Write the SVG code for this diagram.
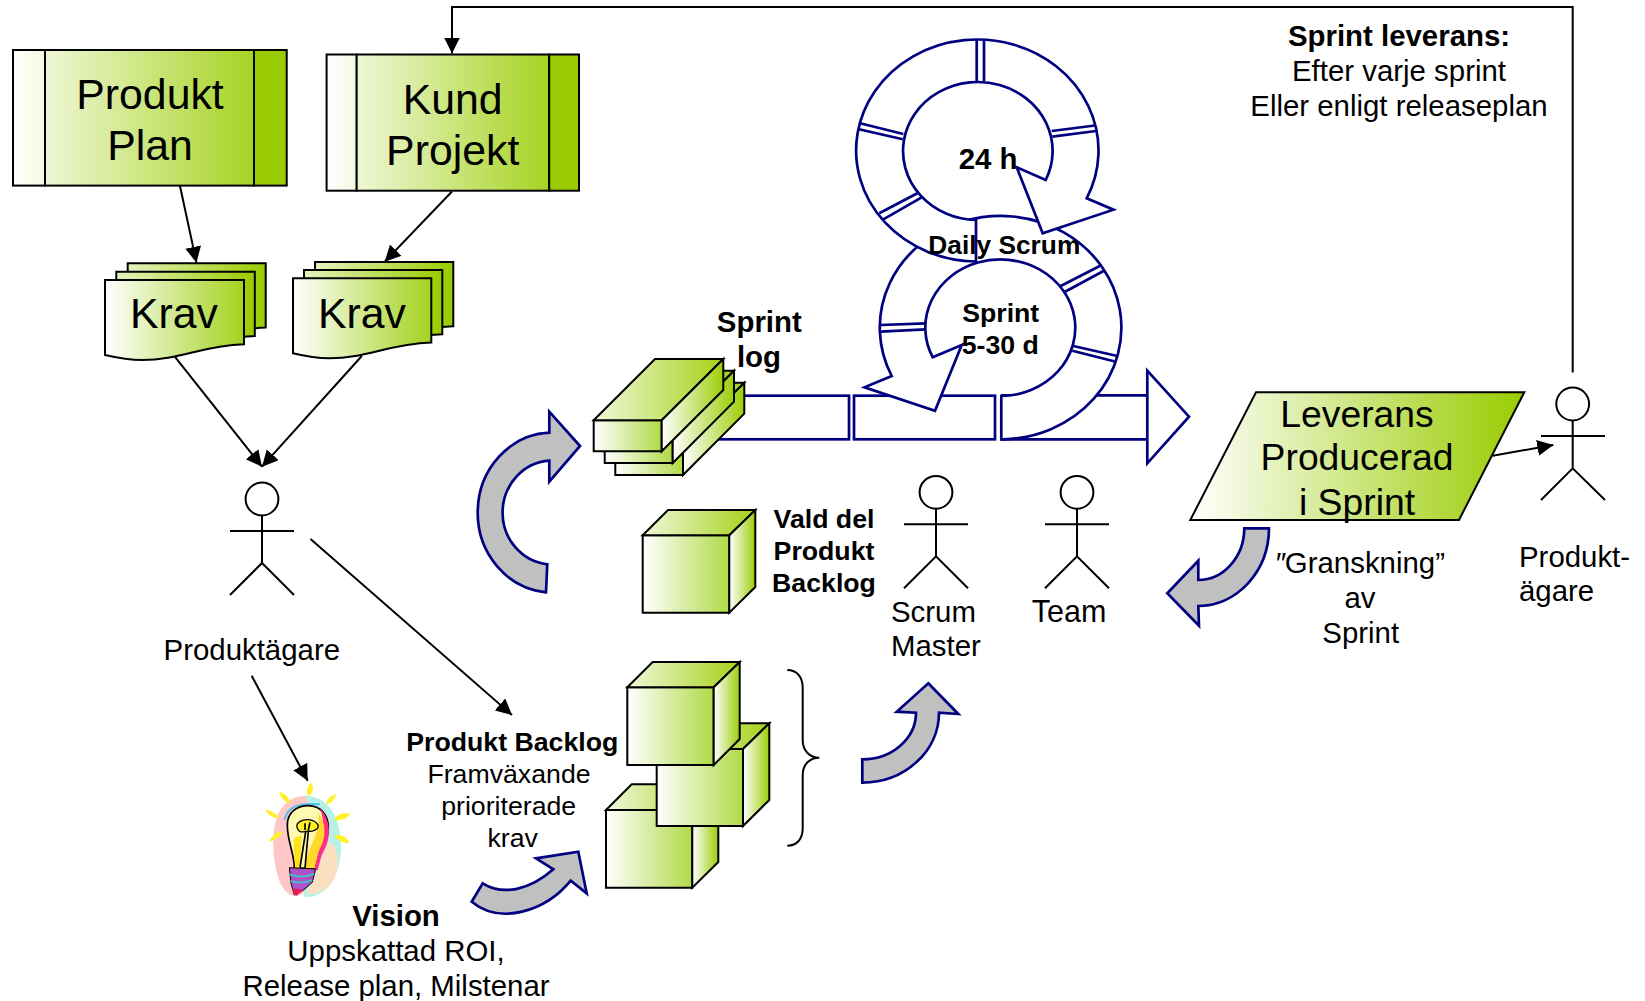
<svg xmlns="http://www.w3.org/2000/svg" width="1645" height="1001" viewBox="0 0 1645 1001">
<style>
text{font-family:"Liberation Sans",Arial,sans-serif;fill:#000;text-anchor:middle}
.b{font-weight:bold}.s{text-anchor:start}
.f42{font-size:42.8px}.f37{font-size:37.3px}.f29{font-size:29.4px}.f26{font-size:26.7px}
.k{stroke:#000;stroke-width:2;stroke-linejoin:miter}
.n{stroke:#000080;stroke-width:2.7;fill:#fff;stroke-linejoin:miter}
.d{stroke:#000080;stroke-width:2.7;fill:none}
.g{stroke:#000080;stroke-width:2.7;fill:#C0C0C0;stroke-linejoin:miter}
.l{fill:none;stroke:#000;stroke-width:2}
.c{fill:none;stroke:#000;stroke-width:2}
.a{marker-end:url(#ah)}
.front{fill:url(#gf)}.top{fill:url(#gt)}.side{fill:url(#gs)}.doc{fill:url(#gd)}.doc2{fill:url(#gd2)}
.ray{fill:#FFF02A}
</style>
<defs>
<linearGradient id="gf"><stop offset="0" stop-color="#fff"/><stop offset="1" stop-color="#B0DA46"/></linearGradient>
<linearGradient id="gt"><stop offset="0" stop-color="#F0F8DA"/><stop offset="1" stop-color="#A4D218"/></linearGradient>
<linearGradient id="gs"><stop offset="0" stop-color="#fff"/><stop offset="1" stop-color="#9BCE08"/></linearGradient>
<linearGradient id="gd"><stop offset="0" stop-color="#fff"/><stop offset="1" stop-color="#A4D21E"/></linearGradient>
<linearGradient id="gd2"><stop offset="0" stop-color="#E4F2BE"/><stop offset="1" stop-color="#99CC00"/></linearGradient>
<linearGradient id="gl"><stop offset="0" stop-color="#fff"/><stop offset="1" stop-color="#F3F9E0"/></linearGradient>
<linearGradient id="gc"><stop offset="0" stop-color="#EFF7D6"/><stop offset="1" stop-color="#A6D322"/></linearGradient>
<linearGradient id="gp"><stop offset="0" stop-color="#fff"/><stop offset="1" stop-color="#99CC00"/></linearGradient>
<marker id="ah" markerUnits="userSpaceOnUse" markerWidth="17" markerHeight="17" refX="16" refY="8" orient="auto"><path d="M0 0L16 8L0 16Z" fill="#000"/></marker>
</defs>

<g id="connectors">
<path class="c a" d="M1572.7 372.5V7H452V53.5"/>
<line class="c a" x1="180" y1="186" x2="196.5" y2="262.7"/>
<line class="c a" x1="452" y1="191.5" x2="384.7" y2="261.7"/>
<line class="c a" x1="174.8" y1="356.7" x2="262" y2="466.7"/>
<line class="c a" x1="361.8" y1="356" x2="262" y2="466.7"/>
<line class="c a" x1="251.7" y1="675.7" x2="307.7" y2="780.7"/>
<line class="c a" x1="310.5" y1="539" x2="512" y2="715"/>
<line class="c a" x1="1492.7" y1="455.7" x2="1553.3" y2="445"/>
</g>

<g id="produkt-plan">
<rect x="13" y="50" width="32" height="135.6" fill="url(#gl)" class="k"/>
<rect x="45" y="50" width="209" height="135.6" fill="url(#gc)" class="k"/>
<rect x="254" y="50" width="32.7" height="135.6" fill="#9ACC05" class="k"/>
<text class="f42" x="150" y="109">Produkt</text><text class="f42" x="150" y="160">Plan</text>
</g>
<g id="kund-projekt">
<rect x="326.6" y="54.5" width="30.1" height="136.2" fill="url(#gl)" class="k"/>
<rect x="356.7" y="54.5" width="192.5" height="136.2" fill="url(#gc)" class="k"/>
<rect x="549.2" y="54.5" width="29.8" height="136.2" fill="#9ACC05" class="k"/>
<text class="f42" x="452.7" y="114">Kund</text><text class="f42" x="452.7" y="164.5">Projekt</text>
</g>
<g id="krav-1">
<path class="k doc2" d="M127.7 263.3h138v64.3c-44 1.7-64 15.7-102 15.7c-12 0-24-2-36-5z"/>
<path class="k doc2" d="M116.3 271.7h138.5v64.3c-44 1.7-64 15.7-102 15.7c-12 0-24-2-36.5-5z"/>
<path class="k doc" d="M105 280h139v64.3c-44 1.7-64 15.7-102 15.7c-12 0-24-2-37-5z"/>
<text class="f42" x="174" y="328">Krav</text>
</g>
<g id="krav-2">
<path class="k doc2" d="M315 262h138.3v64.3c-44 1.7-64 15.7-102 15.7c-12 0-24-2-36.3-5z"/>
<path class="k doc2" d="M304 270h138.3v64.3c-44 1.7-64 15.7-102 15.7c-12 0-24-2-36.3-5z"/>
<path class="k doc" d="M293 278.3h138.3v64.3c-44 1.7-64 15.7-102 15.7c-12 0-24-2-36.3-5z"/>
<text class="f42" x="362" y="327.7">Krav</text>
</g>

<g id="actor-produktagare">
<circle class="l" cx="262" cy="499" r="16.4" fill="#fff"/>
<path class="l" d="M262 515.4V563M230 531H294M230 595L262 563L294 595"/>
<text class="f29" x="251.8" y="659.5">Produktägare</text>
</g>
<g id="vision">
<g transform="translate(255 775) scale(.3333)">
<path d="M55 200C55 120 85 65 150 62C200 60 210 120 205 200C200 290 175 362 115 362C75 355 55 280 55 200Z" fill="#FFC6C6"/>
<path d="M150 62C215 62 258 120 258 215C258 310 210 368 150 366C130 362 200 150 150 62Z" fill="#B6F0E6"/>
<path d="M220 200C248 205 252 250 245 290C235 335 195 358 155 358C165 320 185 300 190 270Z" fill="#FBE0C2"/>
<path class="ray" d="M168 22C178 40 175 55 160 63C150 50 158 35 168 22ZM72 50C90 55 105 68 105 85C88 82 78 68 72 50ZM30 102C45 108 65 115 72 128C55 132 38 120 30 102ZM42 200C48 185 65 170 83 168C82 185 60 197 42 200ZM244 58C240 72 230 85 214 88C215 72 228 62 244 58ZM286 116C278 130 258 138 238 135C242 118 265 112 286 116ZM283 204C265 204 245 196 238 182C258 176 275 185 283 204Z"/>
<path d="M88 135C98 95 130 82 195 88" fill="none" stroke="#4FC3F0" stroke-width="6"/>
<path d="M118 278C118 235 97 200 97 150C97 112 125 92 160 92C198 92 220 122 220 158C220 205 190 235 182 282Z" fill="#FFF8B0" stroke="#000" stroke-width="5"/>
<path d="M195 100C228 135 232 190 200 240L188 285L178 285C185 225 222 175 195 100Z" fill="#FF2E86"/>
<path d="M190 115C215 145 215 190 190 230L178 280L150 280C155 215 200 175 190 115Z" fill="#FFD92A"/>
<path d="M120 280C120 240 112 215 118 190L140 180L135 280Z" fill="#FFE21A"/>
<path d="M150 170C125 175 122 150 130 143C145 130 175 130 188 148C195 160 175 172 160 168Z" fill="#FFF02A" stroke="#000" stroke-width="4"/>
<path d="M152 170L135 278M160 168L150 280M150 145L150 165M165 142L160 165" fill="none" stroke="#000" stroke-width="5"/>
<path d="M103 278L182 282L172 322L146 345L118 360L108 325Z" fill="#B050C8" stroke="#000" stroke-width="3"/>
<path d="M102 298Q140 312 178 296M106 318Q140 328 172 316" fill="none" stroke="#35D0C0" stroke-width="5"/>
<path d="M112 340L146 344L125 362L117 360Z" fill="#E0205A"/>
</g>
<text class="b f29" x="396" y="926">Vision</text>
<text class="f29" x="396" y="961">Uppskattad ROI,</text>
<text class="f29" x="396" y="996">Release plan, Milstenar</text>
</g>
<g id="produkt-backlog">
<text class="b f26" x="512.3" y="751">Produkt Backlog</text>
<text class="f26" x="509" y="783.3">Framväxande</text>
<text class="f26" x="508.7" y="815">prioriterade</text>
<text class="f26" x="512.7" y="847.3">krav</text>
</g>
<g id="arrow-vision-backlog"><path class="g" d="M471.7 901.7L482.7 883.3C503 896 530 890 553.3 869.3L536 858.3L578.3 851.7L586.7 893.3L570.7 880.7C545 912 500 925 471.7 901.7Z"/></g>
<g id="arrow-backlog-sprintlog"><path class="g" d="M580 446L549.3 411.7V432.7A75 80 0 0 0 546 592.3L547.3 564.3A50 52 0 0 1 549.3 460.7V481.7Z"/></g>
<g id="arrow-granskning"><path class="g" d="M1167.3 593.3L1198.3 560.7V580A46 52 0 0 0 1244.3 528.3H1269A71 78 0 0 1 1198.3 606L1199 625.7Z"/></g>
<g id="arrow-scrummaster"><path class="g" d="M928.3 683.3L958.3 714L939 712.7A77 70 0 0 1 862.3 782.7V759.3A53.7 46.6 0 0 0 916 712.7L896.7 711.7Z"/></g>

<g id="sprint-bar">
<rect class="n" x="720" y="395.7" width="129" height="43.6"/>
<rect class="n" x="854" y="395.7" width="141" height="43.6"/>
<path class="n" d="M1001 395.3H1147.3V370.7M1147.3 370.7L1189 416.7L1147.3 463.3ZM1147.3 439.3H1001Z"/>
</g>
<g id="sprint-log">
<path class="k front" d="M615.3 444H683V475H615.3Z"/><path class="k top" d="M615.3 444L676.6 382.7H744.3L683 444Z"/><path class="k side" d="M683 444L744.3 382.7V413.7L683 475Z"/>
<path class="k front" d="M604.7 432H672.7V463H604.7Z"/><path class="k top" d="M604.7 432L666 370.7H734L672.7 432Z"/><path class="k side" d="M672.7 432L734 370.7V401.7L672.7 463Z"/>
<path class="k front" d="M593.7 420.3H661.7V451.3H593.7Z"/><path class="k top" d="M593.7 420.3L655 359H723.3L661.7 420.3Z"/><path class="k side" d="M661.7 420.3L723.3 359V390L661.7 451.3Z"/>
<text class="b f29" x="759.3" y="331.7">Sprint</text><text class="b f29" x="759" y="366.7">log</text>
</g>
<g id="sprint-cycle">
<path class="n" d="M891.7 376A120.8 111.7 0 1 1 1003.3 439.3H1001.3V396A75 68.3 0 1 0 932.7 357.3L961.7 345L935 410.7L864.5 387.3Z"/>
<path class="d" d="M1060.7 286L1101.7 265M1065 291.7L1104 270.7M1073.3 346L1117.3 356M1072.3 350.7L1116 361.7M880.7 325L926 323.3M880.7 331.7L926 329.3"/>
<path class="n" d="M1086.7 198.3A121.2 111 0 1 0 976 261.5V220A74.8 69 0 1 1 1045.7 180L1016.7 167.3L1042.7 233.3L1113.5 209.7Z"/>
<path class="d" d="M976.7 40V81M984 40V81M1051.7 131L1095 125.5M1052.3 136.7L1096 131M860 123.3L903.3 134M859 129.3L902.7 139.3M879.3 213.3L918.3 192.7M883.3 219.3L921.7 197.3"/>
<text class="b f29 s" x="958.7" y="169">24 h</text>
<text class="b" font-size="26.3" x="1004.3" y="254">Daily Scrum</text>
<text class="b f26" x="1000.7" y="322.3">Sprint</text><text class="b f26" x="1000.3" y="354.3">5-30 d</text>
</g>
<g id="vald-del">
<path class="k front" d="M642.7 535.3H729.3V612.7H642.7Z"/><path class="k top" d="M642.7 535.3L668 510H755.3L729.3 535.3Z"/><path class="k side" d="M729.3 535.3L755.3 510V587L729.3 612.7Z"/>
<text class="b f26" x="824" y="527.7">Vald del</text><text class="b f26" x="824" y="559.7">Produkt</text><text class="b f26" x="824" y="591.7">Backlog</text>
</g>
<g id="backlog-cubes">
<path class="k front" d="M606 810H692.3V887.7H606Z"/><path class="k top" d="M606 810L631.7 784.3H718.3L692.3 810Z"/><path class="k side" d="M692.3 810L718.3 784.3V862L692.3 887.7Z"/>
<path class="k front" d="M656.7 749H743V826H656.7Z"/><path class="k top" d="M656.7 749L682.7 723.3H769.3L743 749Z"/><path class="k side" d="M743 749L769.3 723.3V800L743 826Z"/>
<path class="k front" d="M627.3 687.3H713.7V765H627.3Z"/><path class="k top" d="M627.3 687.3L652.7 662H739.7L713.7 687.3Z"/><path class="k side" d="M713.7 687.3L739.7 662V739L713.7 765Z"/>
</g>
<g id="brace"><path class="l" d="M787.3 670C797 670 802.7 677 802.7 688V740C802.7 751 810 757.7 819.3 757.7C810 757.7 802.7 764 802.7 775V828C802.7 839 797 845.7 787.3 845.7"/></g>
<g id="actor-scrum-master">
<circle class="l" cx="936" cy="492.3" r="16.4"/>
<path class="l" d="M936 508.7V556.3M904 524.3H968M904 588.3L936 556.3L968 588.3"/>
<text class="f29 s" x="891" y="621.5">Scrum</text><text class="f29 s" x="891" y="656.2">Master</text>
</g>
<g id="actor-team">
<circle class="l" cx="1077" cy="492.3" r="16.4"/>
<path class="l" d="M1077 508.7V556.3M1045 524.3H1109M1045 588.3L1077 556.3L1109 588.3"/>
<text x="1069" y="622" style="font-size:30.5px">Team</text>
</g>
<g id="leverans">
<path class="k" fill="url(#gp)" d="M1256 392.3H1524.3L1459 520H1190.3Z"/>
<text class="f37" x="1357" y="426.7">Leverans</text><text class="f37" x="1357" y="470.3">Producerad</text><text class="f37" x="1357" y="515">i Sprint</text>
</g>
<g id="actor-produktagare-2">
<circle class="l" cx="1572.7" cy="404" r="16.4"/>
<path class="l" d="M1572.7 420.4V468.3M1541 436H1605M1541 500L1572.7 468.3L1605 500"/>
<text class="f29 s" x="1519" y="566.7">Produkt-</text><text class="f29 s" x="1519" y="601">ägare</text>
</g>
<g id="granskning">
<text class="f29" x="1359.7" y="573.3"><tspan font-style="italic">″</tspan>Granskning”</text><text class="f29" x="1360" y="608.3">av</text><text class="f29" x="1360.7" y="643.3">Sprint</text>
</g>
<g id="sprint-leverans">
<text class="b f29" x="1399" y="46">Sprint leverans:</text>
<text class="f29" x="1399" y="81">Efter varje sprint</text>
<text class="f29" x="1399" y="115.5">Eller enligt releaseplan</text>
</g>
</svg>
